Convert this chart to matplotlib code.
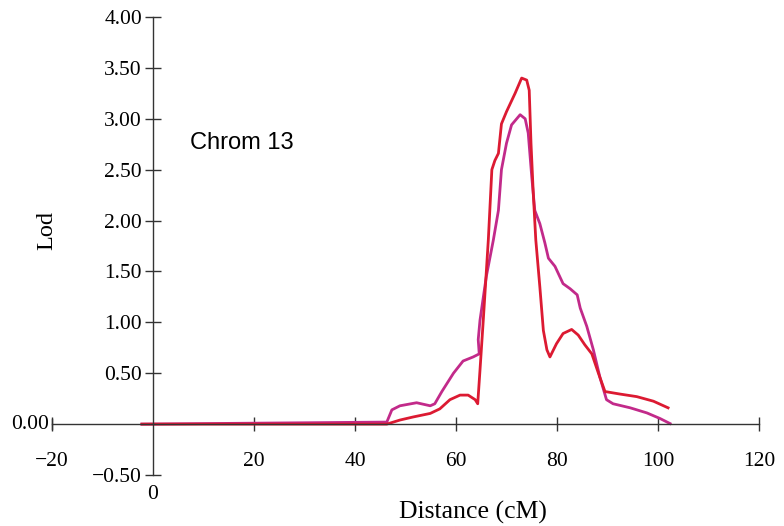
import numpy as np
import matplotlib.pyplot as plt

# red curve (distance cM, lod)
red_x = [-2.2, 46.3, 48.9, 51.5, 54.9, 56.8, 58.8, 60.8, 62.4, 63.8, 64.3, 64.75,
         65.4, 66.4, 67.1, 67.7, 68.4, 69.0, 70.0, 71.7, 73.0, 74.0, 74.5, 74.85,
         75.3, 75.8, 76.6, 77.3, 78.0, 78.6, 79.9, 81.2, 82.9, 84.2, 85.5, 86.9,
         88.2, 89.5, 92.5, 95.8, 99.1, 102.0]
red_y = [0.0, 0.0, 0.04, 0.07, 0.105, 0.15, 0.24, 0.285, 0.285, 0.24, 0.20, 0.53,
         1.02, 1.81, 2.50, 2.59, 2.66, 2.95, 3.07, 3.25, 3.40, 3.38, 3.28, 2.76,
         2.27, 1.81, 1.35, 0.92, 0.73, 0.66, 0.79, 0.89, 0.93, 0.875, 0.78, 0.69,
         0.50, 0.32, 0.295, 0.27, 0.225, 0.16]

# magenta curve
mag_x = [-2.2, 46.3, 47.3, 48.9, 52.2, 54.9, 55.8, 57.2, 59.5, 61.4, 63.4, 64.6,
         64.4, 64.75, 66.0, 67.4, 68.4, 69.0, 70.0, 71.0, 72.7, 73.7, 74.3, 75.0,
         75.6, 76.6, 77.6, 78.3, 79.6, 81.2, 82.6, 84.0, 84.6, 85.9, 87.2, 88.5,
         89.8, 91.1, 94.5, 97.8, 100.4, 102.4]
mag_y = [0.0, 0.02, 0.14, 0.18, 0.21, 0.18, 0.20, 0.32, 0.50, 0.62, 0.66, 0.69,
         0.83, 1.02, 1.45, 1.81, 2.10, 2.50, 2.76, 2.94, 3.04, 3.00, 2.86, 2.43,
         2.10, 1.97, 1.78, 1.63, 1.55, 1.38, 1.33, 1.27, 1.14, 0.96, 0.73, 0.46,
         0.24, 0.20, 0.16, 0.11, 0.055, 0.005]

x_ticks = [-20, 20, 40, 60, 80, 100, 120]
y_ticks = [-0.5, 0.5, 1.0, 1.5, 2.0, 2.5, 3.0, 3.5, 4.0]

plt.rcParams['font.family'] = 'Liberation Serif'

fig = plt.figure(figsize=(7.84, 5.26), dpi=100)
ax = fig.add_axes([52 / 784, 51 / 526, 707 / 784, 458 / 526])

ax.plot(mag_x, mag_y, color='#c22a8a', lw=2.0, solid_joinstyle='round')
ax.plot(red_x, red_y, color='#dc1a32', lw=2.0, solid_joinstyle='round')

ax.set_xlim(-20, 120)
ax.set_ylim(-0.5, 4.0)
ax.spines['left'].set_position(('data', 0))
ax.spines['bottom'].set_position(('data', 0))
ax.spines['top'].set_visible(False)
ax.spines['right'].set_visible(False)
for s in ('left', 'bottom'):
    ax.spines[s].set_color('#333333')
    ax.spines[s].set_linewidth(1.0)

ax.set_xticks(x_ticks)
ax.set_xticklabels(['\u221220'] + [str(t) for t in x_ticks[1:]])
ax.set_yticks(y_ticks)
ax.set_yticklabels(['\u22120.50'] + ['%.2f' % t for t in y_ticks[1:]])
ax.tick_params(axis='x', direction='inout', length=10, width=1.0, color='#333333',
               pad=15, labelsize=15.5)
ax.tick_params(axis='y', direction='inout', length=12, width=1.0, color='#333333',
               pad=2, labelsize=15.5)

# extra tick mark/labels at the ends
ax.plot([-20, -20], [-0.05, 0.05], color='#333333', lw=1.0, clip_on=False)
ax.text(-20.5, 0.0, '0.00', ha='right', va='center', fontsize=15.5)
ax.text(0, -0.6, '0', ha='center', va='top', fontsize=15.5)

fig.text(473 / 784, 1 - 512 / 526, 'Distance (cM)', ha='center', va='center',
         fontsize=18.5)
fig.text(47 / 784, 1 - 231 / 526, 'Lod', rotation=90, ha='center', va='center',
         fontsize=17.5)
ax.text(7.3, 2.76, 'Chrom 13', family='Liberation Sans', fontsize=17,
        ha='left', va='center')

fig.savefig('out.png', dpi=100)
